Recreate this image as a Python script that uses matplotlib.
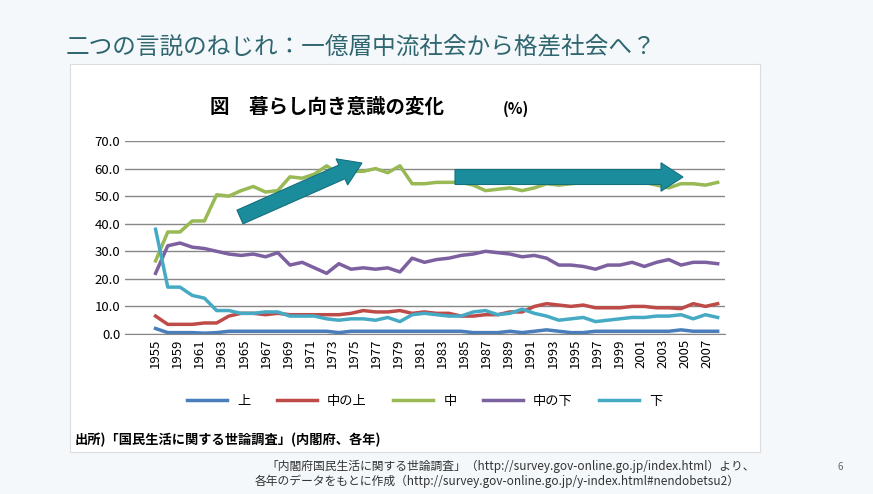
import numpy as np
import matplotlib
matplotlib.use("Agg")
import matplotlib.pyplot as plt
from matplotlib.patches import FancyArrow
from matplotlib.transforms import IdentityTransform

plt.rcParams['font.family'] = ['Noto Sans CJK JP', 'DejaVu Sans']

# data (survey points)
ue = [2, 0.5, 0.5, 0.5, 0.3, 0.5, 1, 1, 1, 1, 1, 1, 1, 1, 1, 0.5, 1, 1, 1, 1, 1, 1, 1, 1,
      1, 1, 0.5, 0.5, 0.5, 1, 0.5, 1, 1.5, 1, 0.5, 0.5, 1, 1, 1, 1, 1, 1, 1, 1.5, 1, 1, 1]
naka_ue = [6.5, 3.5, 3.5, 3.5, 4, 4, 6.5, 7.5, 7.5, 7, 7.5, 7, 7, 7, 7, 7, 7.5, 8.5, 8, 8,
           8.5, 7.5, 8, 7.5, 7.5, 6.5, 6.5, 7, 7, 8, 8, 10, 11, 10.5, 10, 10.5, 9.5, 9.5,
           9.5, 10, 10, 9.5, 9.5, 9.2, 11, 10, 11]
naka = [26.5, 37, 37, 41, 41, 50.5, 50, 52, 53.5, 51.5, 52, 57, 56.5, 58, 61, 58, 59, 59,
        60, 58.5, 61, 54.5, 54.5, 55, 55, 55, 54, 52, 52.5, 53, 52, 53, 54.5, 54, 54.5,
        55, 55, 55, 55, 55, 55, 54, 53, 54.5, 54.5, 54, 55]
naka_shita = [22, 32, 33, 31.5, 31, 30, 29, 28.5, 29, 28, 29.5, 25, 26, 24, 22, 25.5, 23.5,
              24, 23.5, 24, 22.5, 27.5, 26, 27, 27.5, 28.5, 29, 30, 29.5, 29, 28, 28.5,
              27.5, 25, 25, 24.5, 23.5, 25, 25, 26, 24.5, 26, 27, 25, 26, 26, 25.5]
shita = [38, 17, 17, 14, 13, 8.5, 8.5, 7.5, 7.5, 8, 8, 6.5, 6.5, 6.5, 5.5, 5, 5.5, 5.5, 5, 6,
         4.5, 7, 7.5, 7, 6.5, 6.5, 8, 8.5, 7, 7.5, 9, 7.5, 6.5, 5, 5.5, 6, 4.5, 5, 5.5, 6,
         6, 6.5, 6.5, 7, 5.5, 7, 6]
year_labels = [1955] + list(range(1959, 2008, 2))

fig = plt.figure(figsize=(8.73, 4.94), dpi=100)
fig.patch.set_facecolor('#f4f8fa')
H = 494.0

# white chart panel
panel = fig.add_axes([70 / 873, 1 - 452 / H, 690 / 873, 388 / H])
panel.set_facecolor('white')
panel.set_xticks([]); panel.set_yticks([])
for s in panel.spines.values():
    s.set_color('#dddddd')

ax = fig.add_axes([125 / 873, 1 - 334 / H, 600 / 873, 193 / H])
ax.set_facecolor('white')
x = np.arange(len(naka))
ax.plot(x, ue, color='#4a7ebb', lw=2.5, label='上')
ax.plot(x, naka_ue, color='#be4b48', lw=2.5, label='中の上')
ax.plot(x, naka, color='#98b954', lw=2.5, label='中')
ax.plot(x, naka_shita, color='#7d60a0', lw=2.5, label='中の下')
ax.plot(x, shita, color='#46aac5', lw=2.5, label='下')
ax.set_xlim(-2.5, 46.6)
ax.set_ylim(0, 70)
ax.set_yticks(np.arange(0, 71, 10))
ax.set_yticklabels([f'{v:.1f}' for v in range(0, 71, 10)], fontsize=9.5)
ax.set_xticks(np.arange(len(year_labels)) * 1.806)
ax.set_xticklabels(year_labels, rotation=90, fontsize=9.5)
ax.yaxis.grid(True, color='#888888', lw=1)
ax.set_axisbelow(True)
ax.tick_params(length=0)
for s in ['top', 'right', 'left']:
    ax.spines[s].set_visible(False)
ax.spines['bottom'].set_color('#888888')
ax.legend(loc='center', bbox_to_anchor=(0.5, -0.35), ncol=5, frameon=False,
          fontsize=9.5, handlelength=3, columnspacing=2)

# arrows (pixel coords)
def arrow(x0, y0, x1, y1, w):
    a = FancyArrow(x0, H - y0, x1 - x0, -(y1 - y0), width=w, head_width=w * 1.9,
                   head_length=22, length_includes_head=True, transform=IdentityTransform(),
                   facecolor='#1b8c9c', edgecolor='#15707d', lw=0.8, zorder=10)
    fig.add_artist(a)

arrow(240, 217, 362, 163, 15)
arrow(455, 177, 683, 177, 15)

fig.text(0.075, 1 - 47 / H, '二つの言説のねじれ：一億層中流社会から格差社会へ？', fontsize=17,
         color='#2f6670', va='center')
fig.text(210 / 873, 1 - 107 / H, '図　暮らし向き意識の変化', fontsize=14, fontweight='bold',
         va='center')
fig.text(503 / 873, 1 - 109 / H, '(%)', fontsize=11, fontweight='bold', va='center')
fig.text(0.085, 1 - 440 / H, '出所)「国民生活に関する世論調査」(内閣府、各年)', fontsize=9.5,
         fontweight='bold', va='center')
fig.text(0.585, 1 - 466 / H, '「内閣府国民生活に関する世論調査」（http://survey.gov-online.go.jp/index.html）より、',
         fontsize=8.5, ha='center', va='center', color='#333333')
fig.text(0.57, 1 - 481 / H, '各年のデータをもとに作成（http://survey.gov-online.go.jp/y-index.html#nendobetsu2）',
         fontsize=8.5, ha='center', va='center', color='#333333')
fig.text(838 / 873, 1 - 467 / H, '6', fontsize=7, color='#666666', va='center')

fig.savefig('out.png', dpi=100, facecolor=fig.get_facecolor())
